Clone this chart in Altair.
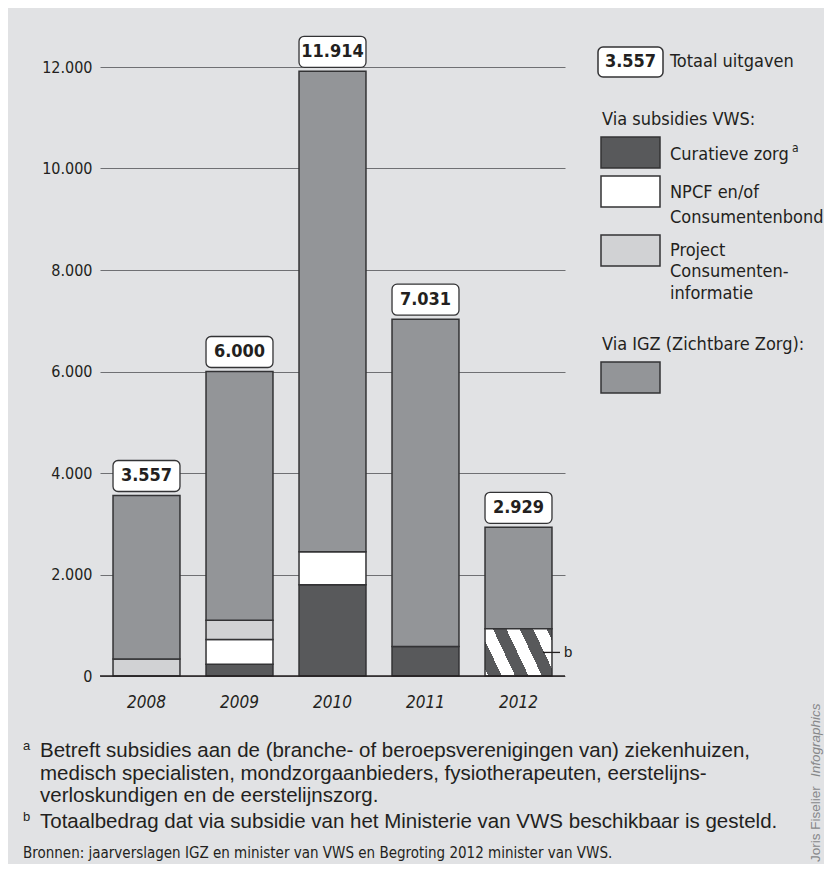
import altair as alt
import pandas as pd

# ---------------- data ----------------
years = ["2008", "2009", "2010", "2011", "2012"]
curatieve = [0, 230, 1800, 580, 0]
npcf = [0, 490, 650, 0, 0]
project = [335, 380, 0, 0, 0]
vws_totaal = [0, 0, 0, 0, 929]
igz = [3222, 4900, 9464, 6451, 2000]
totals = [3557, 6000, 11914, 7031, 2929]
y_ticks = [0, 2000, 4000, 6000, 8000, 10000, 12000]

categories = ["Curatieve zorg", "NPCF en/of Consumentenbond",
              "Project Consumenteninformatie", "VWS totaal", "IGZ (Zichtbare Zorg)"]
series = [curatieve, npcf, project, vws_totaal, igz]
cat_colors = ["#58595b", "#ffffff", "#d1d2d4", "#ffffff", "#939598"]

footnote_a = ["Betreft subsidies aan de (branche- of beroepsverenigingen van) ziekenhuizen,",
              "medisch specialisten, mondzorgaanbieders, fysiotherapeuten, eerstelijns-",
              "verloskundigen en de eerstelijnszorg."]
footnote_b = "Totaalbedrag dat via subsidie van het Ministerie van VWS beschikbaar is gesteld."
source = "Bronnen: jaarverslagen IGZ en minister van VWS en Begroting 2012 minister van VWS."

# ---------------- styles ----------------
COND = "Liberation Sans Narrow, Arial Narrow, DejaVu Sans Condensed, sans-serif"
NORM = "Liberation Sans, Arial, Helvetica, sans-serif"
TXT = "#231f20"
BG = "#e1e2e4"
EDGE = "#333335"
LEG = 18

rows = []
for yi, y in enumerate(years):
    for ci, c in enumerate(categories):
        rows.append({"year": y, "category": c, "order": ci, "value": series[ci][yi]})
df = pd.DataFrame(rows)
tot_df = pd.DataFrame({"year": years, "total": totals,
                       "label": [f"{t:,}".replace(",", ".") for t in totals]})
one = pd.DataFrame({"k": [0]})

xscale = alt.Scale(domain=years, paddingInner=0.28, paddingOuter=0.14)
yscale = alt.Scale(domain=[0, 12000], nice=False)

base = alt.Chart(df).transform_stack(
    stack="value", groupby=["year"], as_=["y0", "y1"],
    sort=[alt.SortField("order", order="ascending")]
).transform_filter(alt.datum.value > 0)

bars = base.transform_filter(alt.datum.category != "VWS totaal").mark_bar(
    stroke=EDGE, strokeWidth=1.5
).encode(
    x=alt.X("year:N", scale=xscale, sort=years,
            axis=alt.Axis(title=None, labelAngle=0, labelFontStyle="italic",
                          labelFontSize=17, labelFont=COND, labelColor=TXT,
                          labelPadding=18, domain=False, ticks=False)),
    y=alt.Y("y0:Q", scale=yscale,
            axis=alt.Axis(title=None, values=y_ticks, grid=True, gridColor="#6f7073",
                          gridWidth=1, domain=False, ticks=False, labelPadding=8,
                          labelFontSize=16, labelFont=COND, labelColor=TXT,
                          labelExpr="replace(format(datum.value, ','), ',', '.')")),
    y2="y1:Q",
    color=alt.Color("category:N", scale=alt.Scale(domain=categories, range=cat_colors),
                    legend=None),
)

# diagonal hatch for the 2012 VWS total (gradient with hard stops)
period, first_dark = 0.30, 0.038
edges = [0.0]
b = first_dark
while b < 1.0:
    edges.append(b)
    b += period / 2
edges.append(1.0)
stops = []
for i in range(len(edges) - 1):
    col = "#ffffff" if i % 2 == 0 else "#58595b"
    stops.append({"offset": round(edges[i], 4), "color": col})
    stops.append({"offset": round(edges[i + 1], 4), "color": col})
hatch = {"gradient": "linear", "x1": 0, "y1": 1, "x2": 1.2, "y2": 0.6, "stops": stops}

hatched = base.transform_filter(alt.datum.category == "VWS totaal").mark_bar(
    fill=hatch, stroke=EDGE, strokeWidth=1.5
).encode(x=alt.X("year:N", scale=xscale, sort=years), y=alt.Y("y0:Q", scale=yscale), y2="y1:Q")

zero = alt.Chart(pd.DataFrame({"v": [0]})).mark_rule(color=TXT, strokeWidth=1.6).encode(
    y=alt.Y("v:Q", scale=yscale))

boxes = alt.Chart(tot_df).mark_rect(
    fill="white", stroke=EDGE, strokeWidth=1.3, cornerRadius=5, yOffset=-35, y2Offset=-4
).encode(x=alt.X("year:N", scale=xscale, sort=years), y=alt.Y("total:Q", scale=yscale),
         y2=alt.Y2("total:Q"))
box_text = alt.Chart(tot_df).mark_text(
    dy=-19.5, baseline="middle", align="center", fontWeight="bold", fontSize=18,
    font=COND, color=TXT
).encode(x=alt.X("year:N", scale=xscale, sort=years), y=alt.Y("total:Q", scale=yscale),
         text="label:N")

# "b" marker
b_df = pd.DataFrame({"y": [vws_totaal[4] / 2]})
b_line = alt.Chart(b_df).mark_rule(color=TXT, strokeWidth=1.3).encode(
    x=alt.value(443), x2=alt.value(460), y=alt.Y("y:Q", scale=yscale))
b_text = alt.Chart(b_df).mark_text(text="b", align="left", baseline="middle", fontSize=15,
                                   font=NORM, color=TXT).encode(
    x=alt.value(464), y=alt.Y("y:Q", scale=yscale))


def text_at(s, x, y, size=LEG, font=COND, align="left", baseline="middle", **kw):
    return alt.Chart(one).mark_text(text=s, align=align, baseline=baseline, fontSize=size,
                                    font=font, color=kw.pop("color", TXT), **kw).encode(
        x=alt.value(x), y=alt.value(y))


def rect_at(x, x2, y, y2, fill, **kw):
    return alt.Chart(one).mark_rect(fill=fill, stroke=EDGE, strokeWidth=1.5, **kw).encode(
        x=alt.value(x), x2=alt.value(x2), y=alt.value(y), y2=alt.value(y2))


LX = 570
legend = [
    rect_at(498, 563, -20, 10, "white", cornerRadius=5),
    text_at(tot_df["label"][0], 530.5, -5, size=18, align="center", fontWeight="bold"),
    text_at("Totaal uitgaven", LX, -5),
    text_at("Via subsidies VWS:", 502, 53),
    rect_at(501, 560, 70, 101, cat_colors[0]),
    text_at("Curatieve zorg", LX, 88),
    text_at("a", 692, 81, size=12),
    rect_at(501, 560, 109, 140, cat_colors[1]),
    text_at("NPCF en/of", LX, 126),
    text_at("Consumentenbond", LX, 151),
    rect_at(501, 560, 168, 199, cat_colors[2]),
    text_at("Project", LX, 184),
    text_at("Consumenten-", LX, 205),
    text_at("informatie", LX, 227),
    text_at("Via IGZ (Zichtbare Zorg):", 502, 278),
    rect_at(501, 560, 295, 326, cat_colors[4]),
]

FN = 20.5
notes = [
    text_at("a", -77, 683, size=13, font=NORM, baseline="alphabetic"),
    text_at(footnote_a[0], -60, 690, size=FN, font=NORM, baseline="alphabetic"),
    text_at(footnote_a[1], -60, 713, size=FN, font=NORM, baseline="alphabetic"),
    text_at(footnote_a[2], -60, 735, size=FN, font=NORM, baseline="alphabetic"),
    text_at("b", -77, 754, size=13, font=NORM, baseline="alphabetic"),
    text_at(footnote_b, -60, 761, size=FN, font=NORM, baseline="alphabetic"),
    text_at(source, -77, 786, size=15),
    text_at("Joris Fiselier", 719.5, 795, size=13.5, font=NORM, baseline="alphabetic",
            angle=270, color="#87888a"),
    text_at("Infographics", 719.5, 710, size=13.5, font=NORM, baseline="alphabetic",
            angle=270, fontStyle="italic", color="#87888a"),
]

chart = alt.layer(bars, hatched, zero, boxes, box_text, b_line, b_text, *legend, *notes).properties(
    width=465, height=609,
    padding={"left": 92, "top": 59, "right": 259, "bottom": 188},
    autosize=alt.AutoSizeParams(type="none"),
    background=BG,
).configure_view(stroke=None)

chart.save("out.html", embed_options={"renderer": "svg", "actions": False})
